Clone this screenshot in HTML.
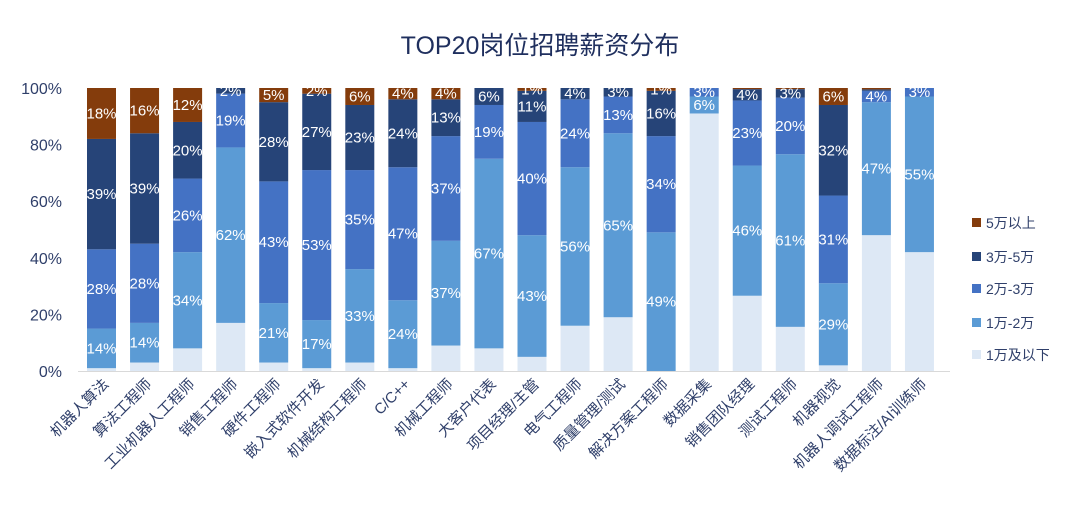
<!DOCTYPE html>
<html><head><meta charset="utf-8"><style>
body{margin:0;background:#fff;}
svg{display:block;font-family:"Liberation Sans","Noto Sans CJK SC",sans-serif;}
</style></head><body>
<svg id="chart" width="1080" height="512">
<text x="540" y="54" text-anchor="middle" font-size="25" fill="#1f2f5e">TOP20岗位招聘薪资分布</text>
<g id="grid"></g><g id="bars"></g><g id="labels"></g><g id="xlabels"></g><g id="legend"></g>
</svg>
<script>
const categories=["机器人算法","算法工程师","工业机器人工程师","销售工程师","硬件工程师","嵌入式软件开发","机械结构工程师","C/C++","机械工程师","大客户代表","项目经理/主管","电气工程师","质量管理/测试","解决方案工程师","数据采集","销售团队经理","测试工程师","机器视觉","机器人调试工程师","数据标注/AI训练师"];
const seriesNames=["1万及以下","1万-2万","2万-3万","3万-5万","5万以上"];
const s1=[1,3,8,17,3,1,3,1,9,8,5,16,19,0,91,26.6,15.6,2,48,42];
const s2=[14,14,34,62,21,17,33,24,37,67,43,56,65,49,6,46,61,29,47,55];
const s3=[28,28,26,19,43,53,35,47,37,19,40,24,13,34,3,23,20,31,4,3];
const s4=[39,39,20,2,28,27,23,24,13,6,11,4,3,16,0,4,3,32,0.5,0];
const s5=[18,16,12,0,5,2,6,4,4,0,1,0,0,1,0,0.4,0.4,6,0.5,0];
const yTicks=[0,20,40,60,80,100];
const series=[s1,s2,s3,s4,s5];
const colors=["#dde8f5","#5b9bd5","#4472c4","#264478","#843c0c"];
const NS="http://www.w3.org/2000/svg";
const y0=371,y100=88,x0=101.5,pitch=43.05,bw=29;
const yS=v=>y0-(y0-y100)*v/100;
const xS=i=>x0+i*pitch;
function mk(t,a,p){const e=document.createElementNS(NS,t);for(const k in a)e.setAttribute(k,a[k]);p.appendChild(e);return e;}
const grid=document.getElementById('grid');
yTicks.forEach(v=>{
  const t=mk('text',{x:62,y:yS(v)+6,'text-anchor':'end','font-size':16,fill:'#2f3f6a'},grid);
  t.textContent=v+'%';
  
  
});
const ax=mk('line',{x1:78,x2:950,y1:y0+0.5,y2:y0+0.5,stroke:'#d9d9d9','stroke-width':1},grid);


const bars=document.getElementById('bars'),labels=document.getElementById('labels');
categories.forEach((c,i)=>{
  const tot=series.reduce((a,s)=>a+s[i],0);
  let cum=0;
  series.forEach((s,k)=>{
    const v=s[i]*100/Math.max(tot,100);
    if(v<=0){return;}
    const yt=yS(cum+v),yb=yS(cum);
    const r=mk('rect',{x:xS(i)-bw/2,y:yt,width:bw,height:yb-yt,fill:colors[k]},bars);
    
    
    if(k>0 && s[i]>=1){
      const t=mk('text',{x:xS(i),y:(yt+yb)/2+5,'text-anchor':'middle','font-size':15,fill:'#fff'},labels);
      t.textContent=Math.round(s[i])+'%';
      
      
    }
    cum+=v;
  });
  const xl=mk('text',{x:0,y:0,'text-anchor':'end','font-size':15,fill:'#2f3f6a',transform:`translate(${xS(i)+8},${y0+14}) rotate(-45)`},document.getElementById('xlabels'));
  xl.textContent=c;
  
  
});
const lg=document.getElementById('legend');
const ly=[355,323,289,257,223];
seriesNames.forEach((n,k)=>{
  const g=mk('g',{},lg);
  
  
  mk('rect',{x:972,y:ly[k]-5,width:9,height:9,fill:colors[k]},g);
  const t=mk('text',{x:986,y:ly[k]+5,'font-size':14,fill:'#2f3f6a'},g);
  t.textContent=n;
});
</script>
</body></html>
